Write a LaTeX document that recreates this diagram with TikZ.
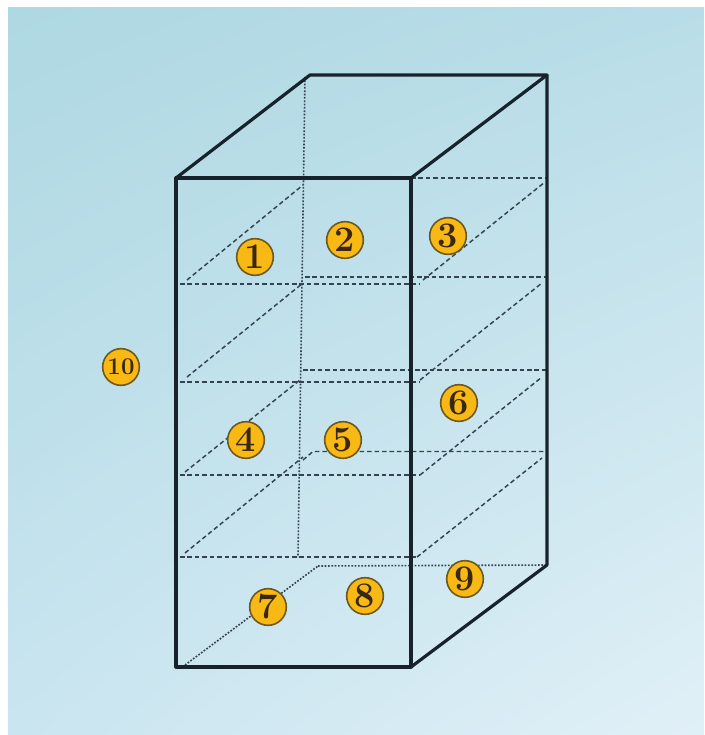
\documentclass[tikz,border=0pt]{standalone}
\usepackage{xcolor}
\usetikzlibrary{calc,shadings}
\definecolor{panelA}{HTML}{AED8E2}
\definecolor{panelB}{HTML}{B9DDE8}
\definecolor{panelC}{HTML}{C9E5F0}
\definecolor{panelD}{HTML}{E1F0F7}
\definecolor{edgeink}{HTML}{18222C}
\definecolor{hidink}{HTML}{35434F}
\definecolor{badgefill}{HTML}{F8B914}
\definecolor{badgering}{HTML}{6E5A20}
\definecolor{badgeink}{HTML}{3A2710}
\tikzstyle{edge} = [
draw=edgeink,
line width=2.4pt,
line join=round
]
\tikzstyle{shelf} = [
draw=hidink,
line width=1.1pt,
dash pattern=on 3.4pt off 2.2pt
]
\tikzstyle{hidden} = [
draw=hidink,
line width=1.2pt,
dash pattern=on 1.3pt off 1.2pt
]
\tikzstyle{badge} = [
circle,
minimum size=27.5pt,
inner sep=0pt,
fill=badgefill,
draw=badgering,
line width=1.2pt,
text=badgeink,
font=\fontsize{27}{27}\selectfont\bfseries
]
\begin{document}
\begin{tikzpicture}[x=0.75pt,y=-0.75pt]
        \useasboundingbox (0,0) rectangle (704,735);

        \shade[shading=bilinear interpolation,upper left=panelA,upper right=panelB,lower left=panelC,lower right=panelD]
        (8,8) rectangle (704,735);

        % corners of the box
        \coordinate (ftl) at (176,178);
        \coordinate (ftr) at (411,178);
        \coordinate (fbl) at (176,667);
        \coordinate (fbr) at (411,667);
        \coordinate (btl) at (310,75);
        \coordinate (btr) at (547,75);
        \coordinate (bbr) at (547,565);
        \coordinate (bbl) at (318,566);

        % hidden edges
        \draw[hidden] (305,77) -- (298,557);
        \draw[hidden] (bbl) -- (bbr);
        \draw[hidden] (185,665) -- (bbl);

        % top row
        \draw[shelf] (ftr) -- (547,178);
        \draw[shelf] (187,280) -- (303,185);
        \draw[shelf] (423,280) -- (545,182);
        \draw[shelf] (180,284) -- (420,284);
        \draw[shelf] (305,277) -- (547,277);

        % second row
        \draw[shelf] (187,377) -- (303,283);
        \draw[shelf] (420,380) -- (542,283);
        \draw[shelf] (180,382) -- (420,382);
        \draw[shelf] (303,370) -- (547,370);

        % third row
        \draw[shelf] (185,472) -- (300,380);
        \draw[shelf] (420,475) -- (542,377);
        \draw[shelf] (180,475) -- (420,475);
        \draw[shelf] (303,460) -- (313,451.5) -- (547,451.5);

        % fourth row
        \draw[shelf] (185,553) -- (303,457);
        \draw[shelf] (417,557) -- (542,458);
        \draw[shelf] (180,557) -- (417,557);

        % outer edges
        \draw[edge] (ftl) -- (ftr) -- (fbr) -- (fbl) -- cycle;
        \draw[edge] (ftl) -- (btl) -- (btr) -- (ftr);
        \draw[edge] (btr) -- (bbr) -- (fbr);

        \node(one)[badge] at (255,257) {1};
        \node(two)[badge] at (345,240) {2};
        \node(three)[badge] at (448,236) {3};
        \node(four)[badge] at (246,440) {4};
        \node(five)[badge] at (343,440) {5};
        \node(six)[badge] at (459,403) {6};
        \node(seven)[badge] at (268,607) {7};
        \node(eight)[badge] at (365,596) {8};
        \node(nine)[badge] at (465,579) {9};
        \node(ten)[badge,font=\fontsize{18}{18}\selectfont\bfseries] at (121,367) {10};
\end{tikzpicture}
\end{document}
